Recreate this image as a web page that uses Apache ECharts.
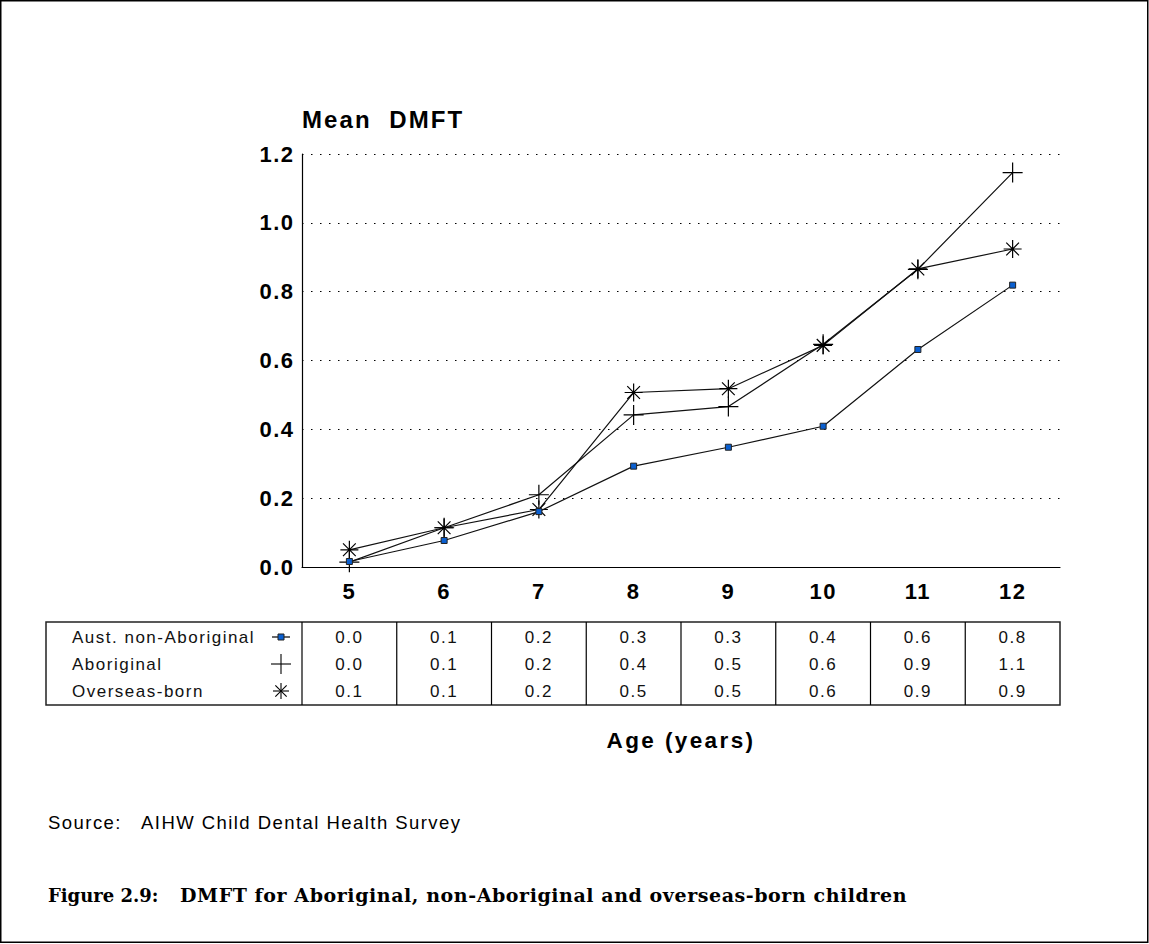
<!DOCTYPE html>
<html><head><meta charset="utf-8">
<script src="https://cdn.jsdelivr.net/npm/echarts@6/dist/echarts.min.js"></script>
<style>
html,body{margin:0;padding:0;background:#fff}
#c{width:1149px;height:944px}
/* the reference typesetting is slightly letter-spaced */
#c text[style*="24px"]{letter-spacing:2.1px}
#c text[style*="22px"]{letter-spacing:1.5px}
#c text[style*="22.5px"]{letter-spacing:2.4px}
#c text[style*="17px"]{letter-spacing:1.5px}
#c text[style*="18.5px"]{letter-spacing:1.45px}
#c text[style*="19px"]{letter-spacing:0.57px}
</style>
</head><body><div id="c"></div>
<script>
// ---- data ----
const categories = ['5', '6', '7', '8', '9', '10', '11', '12'];
const austNonAboriginal = [0.016, 0.077, 0.161, 0.293, 0.348, 0.409, 0.632, 0.819];
const aboriginal = [0.014, 0.114, 0.210, 0.442, 0.466, 0.647, 0.865, 1.146];
const overseasBorn = [0.050, 0.114, 0.167, 0.507, 0.518, 0.644, 0.866, 0.924];
const seriesNames = ['Aust. non-Aboriginal', 'Aboriginal', 'Overseas-born'];
const tableAust = ['0.0', '0.1', '0.2', '0.3', '0.3', '0.4', '0.6', '0.8'];
const tableAboriginal = ['0.0', '0.1', '0.2', '0.4', '0.5', '0.6', '0.9', '1.1'];
const tableOverseas = ['0.1', '0.1', '0.2', '0.5', '0.5', '0.6', '0.9', '0.9'];
const yMin = 0, yMax = 1.2, yStep = 0.2;
const yTitle = 'Mean  DMFT';
const xTitle = 'Age (years)';
const sourceLabel = 'Source:';
const sourceText = 'AIHW Child Dental Health Survey';
const figLabel = 'Figure 2.9:';
const figText = 'DMFT for Aboriginal, non-Aboriginal and overseas-born children';

// ---- style ----
const SANS = '"Liberation Sans", Arial, Helvetica, sans-serif';
const SERIF = '"DejaVu Serif", "Liberation Serif", serif';
const PLUS = 'path://M0,10L20,10M10,0L10,20';
const STAR = 'path://M0,10L20,10M10,0L10,20M2.93,2.93L17.07,17.07M17.07,2.93L2.93,17.07';
const SQ_COLOR = '#0a5fd0';

const chart = echarts.init(document.getElementById('c'), null, {renderer: 'svg'});

const lineStyle = {color: '#111', width: 1.2};
chart.setOption({
  animation: false,
  backgroundColor: '#fff',
  grid: {left: 302, right: 89, top: 154, bottom: 377, containLabel: false},
  xAxis: {
    type: 'category', data: categories, boundaryGap: true,
    axisLine: {show: true, lineStyle: {color: '#000', width: 1.2}},
    axisTick: {show: false},
    axisLabel: {margin: 13, interval: 0, color: '#000', fontFamily: SANS, fontWeight: 'bold', fontSize: 22},
    splitLine: {show: false}
  },
  yAxis: {
    type: 'value', min: yMin, max: yMax, interval: yStep,
    axisLine: {show: true, lineStyle: {color: '#000', width: 1.2}},
    axisTick: {show: false},
    axisLabel: {margin: 7.5, color: '#000', fontFamily: SANS, fontWeight: 'bold', fontSize: 22,
      formatter: v => v.toFixed(1)},
    splitLine: {show: true, lineStyle: {color: '#000', width: 1, type: [1.5, 7.5]}}
  },
  series: [
    {name: seriesNames[0], type: 'line', data: austNonAboriginal, symbol: 'rect', symbolSize: 6,
      lineStyle: lineStyle, itemStyle: {color: SQ_COLOR, borderColor: '#222', borderWidth: 1}, z: 3},
    {name: seriesNames[1], type: 'line', data: aboriginal, symbol: PLUS, symbolSize: 20,
      lineStyle: lineStyle, itemStyle: {color: '#000', borderColor: '#000', borderWidth: 1.2}, z: 2},
    {name: seriesNames[2], type: 'line', data: overseasBorn, symbol: STAR, symbolSize: 18,
      lineStyle: lineStyle, itemStyle: {color: '#000', borderColor: '#000', borderWidth: 1.2}, z: 2}
  ]
});

// ---- data table below the plot, aligned with the category axis ----
const xs = categories.map(c => chart.convertToPixel({xAxisIndex: 0}, c));
const half = (xs[1] - xs[0]) / 2;
const tLeft = 46, tTop = 622, tBottom = 705;
const tRight = xs[xs.length - 1] + half;
const rowY = [637, 664, 691];
const tables = [tableAust, tableAboriginal, tableOverseas];
const keyX = 281;

const g = [];
const seg = (x1, y1, x2, y2, w) => g.push({type: 'line', shape: {x1, y1, x2, y2},
  style: {stroke: '#000', lineWidth: w || 1.1}});
g.push({type: 'rect', shape: {x: 0.75, y: 0.75, width: 1147, height: 941.5},
  style: {fill: 'none', stroke: '#000', lineWidth: 1.5}, silent: true});
g.push({type: 'rect', shape: {x: tLeft, y: tTop, width: tRight - tLeft, height: tBottom - tTop},
  style: {fill: 'none', stroke: '#222', lineWidth: 1.5}});
const divs = [xs[0] - half].concat(xs.slice(0, -1).map(x => x + half));
divs.forEach(x => seg(x, tTop, x, tBottom, 1.2));
seriesNames.forEach((n, r) => {
  g.push({type: 'text', x: 72, y: rowY[r], style: {text: n, font: '17px ' + SANS, fill: '#111',
    textAlign: 'left', textVerticalAlign: 'middle'}});
  tables[r].forEach((v, i) => g.push({type: 'text', x: xs[i], y: rowY[r],
    style: {text: v, font: '17px ' + SANS, fill: '#111', textAlign: 'center', textVerticalAlign: 'middle'}}));
});
// legend keys
seg(keyX - 9, rowY[0], keyX + 9, rowY[0], 1.2);
g.push({type: 'rect', shape: {x: keyX - 3, y: rowY[0] - 3, width: 6, height: 6}, style: {fill: SQ_COLOR, stroke: '#222', lineWidth: 1}});
seg(keyX - 10, rowY[1], keyX + 10, rowY[1]);
seg(keyX, rowY[1] - 10, keyX, rowY[1] + 10);
const r2 = 8, d2 = r2 * 0.7071;
seg(keyX - r2, rowY[2], keyX + r2, rowY[2]);
seg(keyX, rowY[2] - r2, keyX, rowY[2] + r2);
seg(keyX - d2, rowY[2] - d2, keyX + d2, rowY[2] + d2);
seg(keyX + d2, rowY[2] - d2, keyX - d2, rowY[2] + d2);
// titles and notes
g.push({type: 'text', x: 302, y: 119, style: {text: yTitle, font: 'bold 24px ' + SANS, fill: '#000', textAlign: 'left', textVerticalAlign: 'middle'}});
g.push({type: 'text', x: (xs[0] - half + tRight) / 2, y: 740, style: {text: xTitle, font: 'bold 22.5px ' + SANS, fill: '#000', textAlign: 'center', textVerticalAlign: 'middle'}});
g.push({type: 'text', x: 48, y: 822, style: {text: sourceLabel, font: '18.5px ' + SANS, fill: '#000', textAlign: 'left', textVerticalAlign: 'middle'}});
g.push({type: 'text', x: 141, y: 822, style: {text: sourceText, font: '18.5px ' + SANS, fill: '#000', textAlign: 'left', textVerticalAlign: 'middle'}});
g.push({type: 'text', x: 48, y: 895, style: {text: figLabel, font: 'bold 18px ' + SERIF, fill: '#000', textAlign: 'left', textVerticalAlign: 'middle'}});
g.push({type: 'text', x: 180, y: 895, style: {text: figText, font: 'bold 19px ' + SERIF, fill: '#000', textAlign: 'left', textVerticalAlign: 'middle'}});

chart.setOption({graphic: {elements: g}});
</script></body></html>
